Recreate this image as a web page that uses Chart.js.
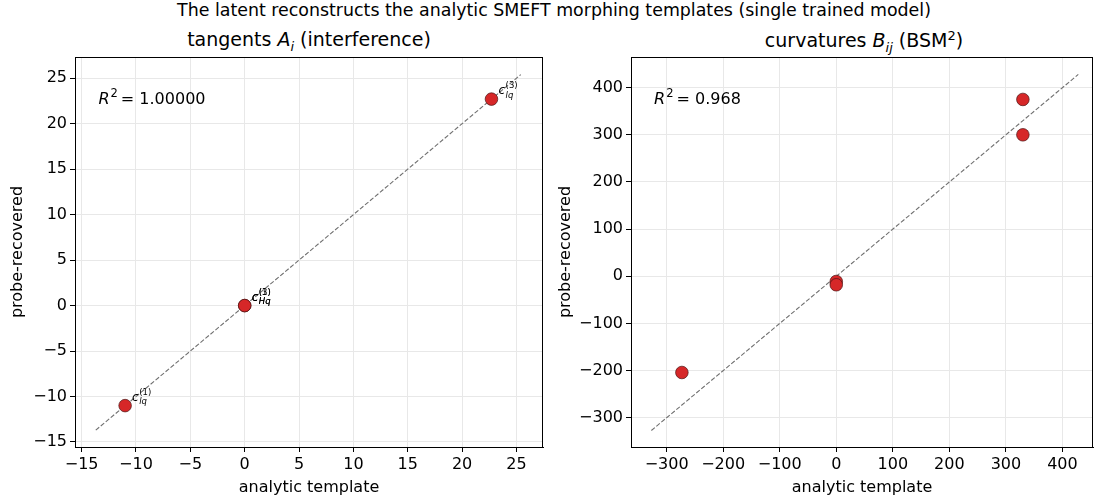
<!DOCTYPE html>
<html>
<head>
<meta charset="utf-8">
<script src="https://cdn.jsdelivr.net/npm/chart.js@4"></script>
<style>
  body { margin: 0; background: #fff; font-family: "DejaVu Sans", sans-serif; }
  #wrap { position: relative; width: 1097px; height: 499px; overflow: hidden; }
  canvas { position: absolute; top: 0; }
  .ttl { position: absolute; text-align: center; color: #000; white-space: nowrap; }
  #sup { top: 0px; left: 0; width: 1108px; font-size: 17.4px; }
  .sub { top: 28px; font-size: 19px; }
  .sub sub, .sub sup { font-size: 13px; }
</style>
</head>
<body>
<div id="wrap">
  <div id="sup" class="ttl">The latent reconstructs the analytic SMEFT morphing templates (single trained model)</div>
  <div class="ttl sub" style="left:75px;width:468px">tangents <i>A</i><sub><i>i</i></sub> (interference)</div>
  <div class="ttl sub" style="left:631px;width:466px">curvatures <i>B</i><sub><i>ij</i></sub> (BSM<sup>2</sup>)</div>
  <canvas id="left" width="548" height="499" style="left:0"></canvas>
  <canvas id="right" width="549" height="499" style="left:548px"></canvas>
</div>
<script>
// дані: дотичні A_i
const tangentSub = ['lq', 'lq', 'Hq', 'Hq'];
const tangentSup = ['(1)', '(3)', '(1)', '(3)'];
const tangentAnalytic = [-11.0, 22.7, 0.0, 0.0];
const tangentRecovered = [-11.0, 22.7, 0.0, 0.0];
const tangentDiag = [-13.7, 25.4];
const tangentR2 = '1.00000';

// дані: кривизни B_ij
const curvAnalytic = [-273, 0, 0, 330, 330];
const curvRecovered = [-204, -11, -18, 375, 300];
const curvDiag = [-327, 428];
const curvR2 = '0.968';

// мітки осей
const leftXTicks = [-15, -10, -5, 0, 5, 10, 15, 20, 25];
const leftYTicks = [-15, -10, -5, 0, 5, 10, 15, 20, 25];
const rightXTicks = [-300, -200, -100, 0, 100, 200, 300, 400];
const rightYTicks = [-300, -200, -100, 0, 100, 200, 300, 400];

const FONT = '"DejaVu Sans", sans-serif';
const TICK = 16;

// рамка навколо області графіка + підписи
const annotate = {
  id: 'annotate',
  afterDatasetsDraw(chart, args, opts) {
    const ctx = chart.ctx, a = chart.chartArea;
    const xs = chart.scales.x, ys = chart.scales.y;
    ctx.save();
    ctx.fillStyle = '#000';
    ctx.textBaseline = 'alphabetic';
    ctx.textAlign = 'left';
    // R^2
    let x = a.left + 0.05 * (a.right - a.left);
    const y = a.top + 0.12 * (a.bottom - a.top);
    ctx.font = 'italic 16px ' + FONT;
    ctx.fillText('R', x, y);
    x += ctx.measureText('R').width + 1;
    ctx.font = '11.5px ' + FONT;
    ctx.fillText('2', x, y - 7);
    x += ctx.measureText('2').width + 3;
    ctx.font = '16px ' + FONT;
    ctx.fillText('= ' + opts.r2, x, y);
    // підписи точок
    (opts.sub || []).forEach((s, i) => {
      const px = xs.getPixelForValue(opts.xv[i]) + 7;
      const py = ys.getPixelForValue(opts.yv[i]) - 5;
      ctx.font = 'italic 12px ' + FONT;
      ctx.fillText('c', px, py);
      const w = ctx.measureText('c').width + 0.5;
      ctx.font = 'italic 8.5px ' + FONT;
      ctx.fillText(s, px + w, py + 3.5);
      ctx.font = '8.5px ' + FONT;
      ctx.fillText(opts.sup[i], px + w, py - 6);
    });
    ctx.restore();
  },
  afterDraw(chart) {
    const ctx = chart.ctx, a = chart.chartArea;
    ctx.save();
    ctx.strokeStyle = '#000';
    ctx.lineWidth = 1;
    ctx.strokeRect(Math.round(a.left) + 0.5, Math.round(a.top) + 0.5,
      Math.round(a.right - a.left) - 1, Math.round(a.bottom - a.top));
    ctx.restore();
  }
};

function axis(ticks, min, max, title, size, isY) {
  return {
    type: 'linear',
    min: min, max: max,
    afterBuildTicks: s => { s.ticks = ticks.map(v => ({ value: v })); },
    afterFit: s => { if (isY) s.width = size; else s.height = size; },
    grid: { color: '#e8e8e8', tickColor: '#000', tickLength: 5, lineWidth: 1 },
    border: { color: '#000' },
    ticks: { color: '#000', font: { family: FONT, size: TICK }, padding: 3,
      maxRotation: 0, autoSkip: false,
      callback: v => (v < 0 ? '\u2212' + Math.abs(v) : String(v)) },
    title: { display: true, text: title, color: '#000',
      font: { family: FONT, size: TICK }, padding: { top: isY ? 8 : 2, bottom: isY ? 8 : 2 } }
  };
}

function makeChart(id, xv, yv, diag, xr, yr, xt, yt, yw, padR, r2, sub, sup) {
  new Chart(document.getElementById(id), {
    data: {
      datasets: [
        {
          type: 'line',
          data: diag.map(v => ({ x: v, y: v })),
          borderColor: '#6f6f6f', borderWidth: 1.1, borderDash: [4.5, 2],
          pointRadius: 0, fill: false, order: 2
        },
        {
          type: 'scatter',
          data: xv.map((v, i) => ({ x: v, y: yv[i] })),
          backgroundColor: '#d62728', borderColor: '#4a1414', borderWidth: 0.7,
          pointRadius: 6.3, order: 1
        }
      ]
    },
    options: {
      responsive: false,
      animation: false,
      layout: { autoPadding: false, padding: { top: 57, right: padR, left: 0, bottom: 0 } },
      plugins: {
        legend: { display: false },
        tooltip: { enabled: false },
        annotate: { r2: r2, sub: sub, sup: sup, xv: xv, yv: yv }
      },
      scales: {
        x: axis(xt, xr[0], xr[1], 'analytic template', 52, false),
        y: axis(yt, yr[0], yr[1], 'probe-recovered', yw, true)
      }
    },
    plugins: [annotate]
  });
}

makeChart('left', tangentAnalytic, tangentRecovered, tangentDiag,
  [-15.61, 27.44], [-15.55, 27.33], leftXTicks, leftYTicks, 75, 5,
  tangentR2, tangentSub, tangentSup);
makeChart('right', curvAnalytic, curvRecovered, curvDiag,
  [-363, 454], [-362, 465], rightXTicks, rightYTicks, 83, 4,
  curvR2, null, null);
</script>
</body>
</html>
